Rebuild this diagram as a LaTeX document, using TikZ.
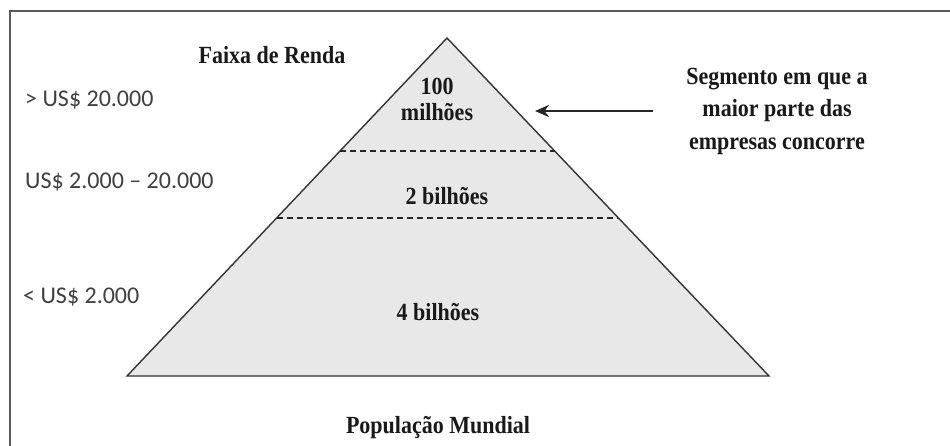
\documentclass[tikz,border=0pt]{standalone}
\usepackage{fontspec}
\usepackage{graphicx}
\setmainfont{Liberation Serif}
\newfontfamily\calfont{Carlito}
\usetikzlibrary{arrows.meta,calc}
\newcommand{\tallb}[1]{\scalebox{1}[1.12]{#1}}
\tikzset{
  serifbold/.style={font=\fontsize{22}{26}\selectfont\bfseries, text=black!90, inner sep=0pt, align=center},
  sanslabel/.style={font=\calfont\fontsize{24}{28}\selectfont, text=black!75, inner sep=0pt, anchor=west},
  pyr/.style={draw=black!80, line width=1.4pt, fill=black!9, line join=miter},
  levelline/.style={draw=black!85, line width=1.2pt, dash pattern=on 6pt off 4pt},
  framebox/.style={draw=black!65, line width=2.2pt},
  pointer/.style={draw=black!85, line width=2.4pt, -{Stealth[length=14pt,width=12pt]}}
}
\begin{document}
\begin{tikzpicture}[x=1pt,y=-1pt]
\useasboundingbox (0,0) rectangle (950,445);
\fill[white] (0,0) rectangle (950,445);
\clip (0,0) rectangle (950,445);
% frame (extends beyond right and bottom)
\draw[framebox] (10,470) -- (10,11) -- (970,11);
% pyramid
\coordinate (apex) at (447,38);
\coordinate (bl) at (127,376);
\coordinate (br) at (769,376);
\path[pyr] (apex) -- (br) -- (bl) -- cycle;
% level lines
\coordinate (l1a) at ($(apex)!0.3343!(bl)$);
\coordinate (l1b) at ($(apex)!0.3343!(br)$);
\coordinate (l2a) at ($(apex)!0.5325!(bl)$);
\coordinate (l2b) at ($(apex)!0.5325!(br)$);
\draw[levelline] (l1a) -- (l1b);
\draw[levelline] (l2a) -- (l2b);
% texts
\node[serifbold] (faixa) at (272,55) {\tallb{Faixa de Renda}};
\node[serifbold] (cem) at (437,86) {\tallb{100}};
\node[serifbold] (milhoes) at (437,112) {\tallb{milhões}};
\node[serifbold] (dois) at (447,196) {\tallb{2 bilhões}};
\node[serifbold] (quatro) at (438,312) {\tallb{4 bilhões}};
\node[serifbold] (pop) at (438,428) {\tallb{População Mundial}};
\node[serifbold] (seg) at (777,111) {\tallb{\begin{tabular}{@{}c@{}}Segmento em que a\\[3pt]maior parte das\\[3pt]empresas concorre\end{tabular}}};
\node[sanslabel] (r1) at (25,100) {> US\$ 20.000};
\node[sanslabel] (r2) at (25,182) {US\$ 2.000 – 20.000};
\node[sanslabel] (r3) at (23,297) {< US\$ 2.000};
% arrow
\coordinate (arrowstart) at (653,111);
\coordinate (arrowtip) at (535,111);
\draw[pointer] (arrowstart) -- (arrowtip);
\end{tikzpicture}
\end{document}
